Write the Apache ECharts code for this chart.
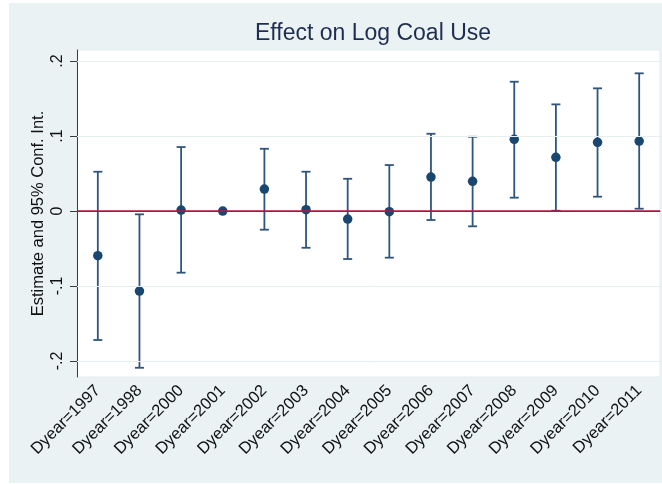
<!DOCTYPE html>
<html>
<head>
<meta charset="utf-8">
<script src="https://cdn.jsdelivr.net/npm/echarts@6/dist/echarts.min.js"></script>
<style>
  html, body { margin: 0; padding: 0; background: #ffffff; }
  #chart { width: 662px; height: 484px; }
</style>
</head>
<body>
<div id="chart"></div>
<script>
// Event-study coefficients with 95% confidence intervals
const categories = ['Dyear=1997', 'Dyear=1998', 'Dyear=2000', 'Dyear=2001', 'Dyear=2002',
  'Dyear=2003', 'Dyear=2004', 'Dyear=2005', 'Dyear=2006', 'Dyear=2007',
  'Dyear=2008', 'Dyear=2009', 'Dyear=2010', 'Dyear=2011'];
const estimates = [-0.0596, -0.1067, 0.0013, 0.0000, 0.0293, 0.0018, -0.0107, -0.0009,
  0.0453, 0.0396, 0.0956, 0.0716, 0.0916, 0.0933];
const ciLow = [-0.1720, -0.2090, -0.0822, null, -0.0249, -0.0490, -0.0640, -0.0622,
  -0.0120, -0.0204, 0.0178, 0.0004, 0.0191, 0.0031];
const ciHigh = [0.0524, -0.0044, 0.0853, null, 0.0830, 0.0524, 0.0430, 0.0613,
  0.1030, 0.0990, 0.1724, 0.1422, 0.1636, 0.1836];
const yTicks = [-0.2, -0.1, 0, 0.1, 0.2];
const yTickLabels = ['-.2', '-.1', '0', '.1', '.2'];
const yMin = -0.2213, yMax = 0.2147;

const FONT = '"Liberation Sans", Arial, sans-serif';
const NAVY = '#1a476f';

const chart = echarts.init(document.getElementById('chart'), null, { renderer: 'canvas' });

const ciData = categories.map((c, i) => [i, ciLow[i], ciHigh[i]])
  .filter(d => d[1] !== null && d[2] !== null);

chart.setOption({
  animation: false,
  backgroundColor: '#ffffff',
  graphic: [{
    type: 'rect', z: -10, silent: true,
    shape: { x: 9, y: 3, width: 653, height: 480 },
    style: { fill: '#eaf2f3' }
  }],
  title: {
    text: 'Effect on Log Coal Use',
    left: 368, top: 17, textAlign: 'center',
    textStyle: { fontFamily: FONT, fontSize: 23, fontWeight: 'normal', color: '#1f2d50' }
  },
  grid: {
    left: 77, right: 2, top: 50, bottom: 107,
    show: true, backgroundColor: '#ffffff', borderColor: '#e3ecef', borderWidth: 1
  },
  xAxis: {
    type: 'category',
    data: categories,
    boundaryGap: true,
    axisLine: { lineStyle: { color: '#3a3a3a', width: 1 } },
    axisTick: { alignWithLabel: true, length: 7, lineStyle: { color: '#3a3a3a' } },
    axisLabel: {
      interval: 0, rotate: 45, margin: 11,
      fontFamily: FONT, fontSize: 16.5, color: '#111111'
    },
    splitLine: { show: false }
  },
  yAxis: {
    type: 'value',
    min: yMin, max: yMax,
    name: 'Estimate and 95% Conf. Int.',
    nameLocation: 'middle', nameRotate: 90, nameGap: 30,
    nameMoveOverlap: false,
    nameTextStyle: { fontFamily: FONT, fontSize: 16.5, color: '#111111' },
    axisLine: { show: true, lineStyle: { color: '#3a3a3a', width: 1 } },
    axisTick: { show: true, length: 7, customValues: yTicks, lineStyle: { color: '#3a3a3a' } },
    axisLabel: {
      rotate: 90, margin: 11, customValues: yTicks,
      fontFamily: FONT, fontSize: 16, color: '#111111',
      formatter: v => {
        const k = yTicks.findIndex(t => Math.abs(t - v) < 1e-9);
        return k >= 0 ? yTickLabels[k] : '';
      }
    },
    splitLine: { show: false }
  },
  series: [
    {
      // horizontal reference grid and the zero line
      type: 'line', data: [], silent: true, z: 1,
      markLine: {
        silent: true, symbol: 'none', animation: false,
        label: { show: false },
        data: yTicks.filter(t => t !== 0).map(t => ({
          yAxis: t, lineStyle: { color: '#e6eef0', width: 1, type: 'solid' }
        })).concat([{ yAxis: 0, lineStyle: { color: '#b5173f', width: 1.6, type: 'solid' } }])
      }
    },
    {
      type: 'custom', z: 3,
      data: ciData,
      encode: { x: 0, y: [1, 2] },
      renderItem: (params, api) => {
        const x = api.value(0);
        const lo = api.coord([x, api.value(1)]);
        const hi = api.coord([x, api.value(2)]);
        const half = 4.5;
        const style = { stroke: '#2f557d', lineWidth: 1.8 };
        return {
          type: 'group',
          children: [
            { type: 'line', shape: { x1: lo[0], y1: lo[1], x2: hi[0], y2: hi[1] }, style },
            { type: 'line', shape: { x1: lo[0] - half, y1: lo[1], x2: lo[0] + half, y2: lo[1] }, style },
            { type: 'line', shape: { x1: hi[0] - half, y1: hi[1], x2: hi[0] + half, y2: hi[1] }, style }
          ]
        };
      }
    },
    {
      type: 'scatter', z: 4,
      symbol: 'circle', symbolSize: 9.5,
      itemStyle: { color: NAVY, opacity: 1 },
      data: estimates.map((v, i) => [i, v])
    }
  ]
});
</script>
</body>
</html>
